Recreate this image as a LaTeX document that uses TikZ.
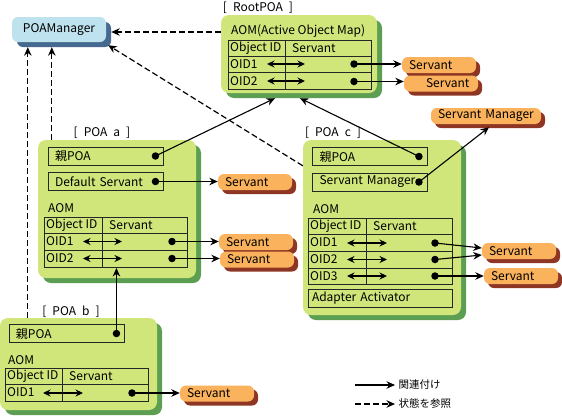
\documentclass[tikz,border=0pt]{standalone}
\usepackage{fontspec}
\setmainfont{Noto Sans CJK JP}
\usetikzlibrary{arrows.meta,shadows}

\definecolor{poagreen}{HTML}{D0E67A}
\definecolor{poashade}{HTML}{5C9E52}
\definecolor{servorange}{HTML}{FBB25C}
\definecolor{servshade}{HTML}{8E3524}
\definecolor{mgrblue}{HTML}{BEE2EE}
\definecolor{mgrshade}{HTML}{46698F}

\tikzset{
  poabox/.style={fill=poagreen, rounded corners=8pt, inner sep=0pt,
    general shadow={fill=poashade, shadow xshift=5pt, shadow yshift=-5pt}},
  mgrbox/.style={fill=mgrblue, rounded corners=6pt, inner sep=0pt,
    general shadow={fill=mgrshade, shadow xshift=5pt, shadow yshift=-5pt}},
  servbox/.style={fill=servorange, rounded corners=6pt, minimum height=16pt,
    text width=60pt, inner xsep=7pt, inner ysep=0pt, align=left,
    general shadow={fill=servshade, shadow xshift=4pt, shadow yshift=-4pt}},
  fieldbox/.style={draw=black!85, line width=0.9pt, fill=poagreen, minimum height=18pt,
    inner xsep=7pt, inner ysep=0pt, text width=101pt, align=left},
  celltext/.style={anchor=west, inner sep=1pt},
  tabline/.style={draw=black!85, line width=0.9pt},
  ptrdot/.style={circle, fill=black, inner sep=0pt, minimum size=7.5pt},
  link/.style={-{Stealth[length=8.5pt,width=7.5pt]}, line width=1.1pt},
  refer/.style={link, dash pattern=on 6pt off 3pt, line width=1.2pt},
  dbl/.style={{Stealth[length=7.5pt,width=7pt]}-{Stealth[length=7.5pt,width=7pt]}, line width=1.1pt},
}

\begin{document}
\begin{tikzpicture}[x=1pt,y=-1pt,font=\fontsize{12pt}{14pt}\selectfont]
\useasboundingbox (0,0) rectangle (562,416);

% POAManager and the four POAs
\node[mgrbox, minimum width=94pt, minimum height=25pt] (mgr) at (59,29.5) {POAManager};
\node[poabox, minimum width=156pt, minimum height=78pt] (root) at (299,54) {};
\node[poabox, minimum width=158pt, minimum height=138pt] (poaa) at (117,209) {};
\node[poabox, minimum width=158pt, minimum height=175pt] (poac) at (382,227.5) {};
\node[poabox, minimum width=157pt, minimum height=92pt] (poab) at (78.5,364) {};

\node (rootname) at (258,8) {[\enspace RootPOA\enspace]};
\node (aname) at (102,133) {[\enspace POA\enspace a\enspace]};
\node (cname) at (333,133) {[\enspace POA\enspace c\enspace]};
\node (bname) at (71,312) {[\enspace POA\enspace b\enspace]};

% RootPOA
\node[anchor=west, inner sep=0pt] (roottitle) at (231,31) {AOM(Active Object Map)};
\draw[tabline] (228,40) rectangle (371,89);
\draw[tabline] (228,56) -- (371,56);
\draw[tabline] (228,72) -- (371,72);
\draw[tabline] (285,40) -- (285,89);
\node[celltext] (rhead1) at (229,48) {Object ID};
\node[celltext] (rhead2) at (291,48) {Servant};
\node[celltext] (roid1) at (229,64) {OID1};
\node[celltext] (roid2) at (229,81) {OID2};
\draw[dbl] (267,64) -- (305,64);
\draw[dbl] (267,81) -- (305,81);
\node[ptrdot] (rdot1) at (354,64) {};
\node[ptrdot] (rdot2) at (354,81.5) {};
\node[servbox] (rserv1) at (439,65) {Servant};
\node[servbox] (rserv2) at (441,83.5) {\hspace*{15pt}Servant};
\draw[link] (rdot1.center) -- (rdot1.center -| rserv1.west);
\draw[link] (rdot2.center) -- (rdot2.center -| rserv2.west);

% POA a
\node[fieldbox] (aparent) at (105.5,156) {親POA};
\node[fieldbox] (adefault) at (105.5,181.5) {Default Servant};
\node[ptrdot] (aparentdot) at ([xshift=-8pt]aparent.east) {};
\node[ptrdot] (adefaultdot) at ([xshift=-8pt]adefault.east) {};
\node[anchor=west, inner sep=0pt] (aaom) at (48,208) {AOM};
\draw[tabline] (44,217) rectangle (187,267);
\draw[tabline] (44,233) -- (187,233);
\draw[tabline] (44,250) -- (187,250);
\draw[tabline] (102,217) -- (102,267);
\node[celltext] (ahead1) at (45,225) {Object ID};
\node[celltext] (ahead2) at (108,225) {Servant};
\node[celltext] (aoid1) at (45,241.5) {OID1};
\node[celltext] (aoid2) at (45,258.5) {OID2};
\draw[dbl] (83,241.5) -- (122,241.5);
\draw[dbl] (83,258.5) -- (122,258.5);
\node[ptrdot] (adot1) at (172,241.5) {};
\node[ptrdot] (adot2) at (172,258.5) {};
\node[servbox] (adefserv) at (255,182) {Servant};
\node[servbox] (aserv1) at (256,242) {Servant};
\node[servbox] (aserv2) at (257,259.5) {Servant};
\draw[link] (adefaultdot.center) -- (adefaultdot.center -| adefserv.west);
\draw[link] (adot1.center) -- (adot1.center -| aserv1.west);
\draw[link] (adot2.center) -- (adot2.center -| aserv2.west);
\coordinate (atabbottom) at (116,268);

% POA c
\node[fieldbox] (cparent) at (370,156.5) {親POA};
\node[fieldbox] (csmgr) at (370,182) {Servant Manager};
\node[ptrdot] (cparentdot) at ([xshift=-9pt]cparent.east) {};
\node[ptrdot] (csmgrdot) at ([xshift=-9pt]csmgr.east) {};
\node[anchor=west, inner sep=0pt] (caom) at (313,209) {AOM};
\draw[tabline] (308,218) rectangle (452,284);
\draw[tabline] (308,234) -- (452,234);
\draw[tabline] (308,251) -- (452,251);
\draw[tabline] (308,268) -- (452,268);
\draw[tabline] (366,218) -- (366,284);
\node[celltext] (chead1) at (309,226) {Object ID};
\node[celltext] (chead2) at (372,226) {Servant};
\node[celltext] (coid1) at (309,242.5) {OID1};
\node[celltext] (coid2) at (309,259.5) {OID2};
\node[celltext] (coid3) at (309,276) {OID3};
\draw[dbl] (347,243) -- (387,243);
\draw[dbl] (347,259.5) -- (387,259.5);
\draw[dbl] (347,276) -- (387,276);
\node[ptrdot] (cdot1) at (435,243) {};
\node[ptrdot] (cdot2) at (435,259.5) {};
\node[ptrdot] (cdot3) at (435,276) {};
\node[fieldbox, text width=136pt, inner xsep=4pt] (cadapter) at (380,298) {Adapter Activator};
\node[servbox] (cserv1) at (519,251) {Servant};
\node[servbox] (cserv2) at (521,276) {Servant};
\draw[link] (cdot1.center) -- ([yshift=3pt]cserv1.west);
\draw[link] (cdot2.center) -- ([yshift=-4pt]cserv1.west);
\draw[link] (cdot3.center) -- (cdot3.center -| cserv2.west);
\node[servbox, text width=96pt] (smgr) at (486,116) {Servant Manager};

% POA b
\node[fieldbox] (bparent) at (66.5,333.5) {親POA};
\node[ptrdot] (bparentdot) at ([xshift=-8pt]bparent.east) {};
\node[anchor=west, inner sep=0pt] (baom) at (8,360) {AOM};
\draw[tabline] (5,368) rectangle (148,401);
\draw[tabline] (5,384) -- (148,384);
\draw[tabline] (62,368) -- (62,401);
\node[celltext] (bhead1) at (6,376) {Object ID};
\node[celltext] (bhead2) at (68,376) {Servant};
\node[celltext] (boid1) at (6,392.5) {OID1};
\draw[dbl] (43,393) -- (83,393);
\node[ptrdot] (bdot1) at (132,393) {};
\node[servbox] (bserv1) at (217,393.5) {Servant};
\draw[link] (bdot1.center) -- (bdot1.center -| bserv1.west);

% parent links
\coordinate (rootB1) at ([xshift=-24pt,yshift=-5pt]root.south);
\coordinate (rootB2) at ([xshift=1pt,yshift=-5pt]root.south);
\draw[link] (aparentdot.center) -- (rootB1);
\draw[link] (cparentdot.center) -- (rootB2);
\draw[link] (csmgrdot.center) -- ([xshift=3pt,yshift=-3pt]smgr.south);
\draw[link] (bparentdot.center) -- (bparentdot.center |- atabbottom);

% state references to POAManager
\coordinate (mgrS) at ([yshift=-5pt]mgr.south);
\coordinate (mgrR) at ([xshift=5pt,yshift=-2.5pt]mgr.east);
\coordinate (aTop) at ([xshift=14pt]poaa.north west);
\coordinate (bTop) at ([xshift=28pt]poab.north west);
\draw[refer] (aTop) -- (aTop |- mgrS);
\draw[refer] (bTop) -- (bTop |- mgrS);
\draw[refer] (root.west |- mgrR) -- (mgrR);
\draw[refer] ([yshift=-26pt]poac.north west) -- ([xshift=2pt,yshift=-3pt]mgr.south east);

% legend
\node[anchor=west, font=\fontsize{10.5pt}{12pt}\selectfont] (leglink) at (395,385) {関連付け};
\node[anchor=west, font=\fontsize{10.5pt}{12pt}\selectfont] (legref) at (395,404) {状態を参照};
\draw[link] ([xshift=-40pt]leglink.west) -- (leglink.west);
\draw[refer] ([xshift=-40pt]legref.west) -- (legref.west);
\end{tikzpicture}
\end{document}
